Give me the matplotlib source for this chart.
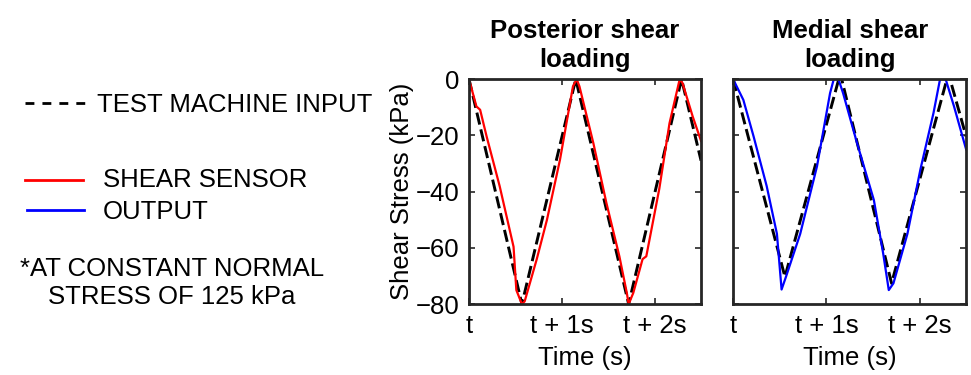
import matplotlib.pyplot as plt
from matplotlib.lines import Line2D

plt.rcParams['font.family'] = ['Liberation Sans', 'DejaVu Sans']
plt.rcParams['font.size'] = 18.5

# Data (time in s, stress in kPa)
post_input_t = [0, 0.57, 1.15, 1.72, 2.29, 2.5]
post_input_s = [0, -80, 0, -80, 0, -29]

post_sensor_t = [0, 0.08, 0.12, 0.19, 0.33, 0.48, 0.51, 0.57, 0.60, 0.73, 0.84, 0.98,
                 1.12, 1.16, 1.19, 1.34, 1.48, 1.62, 1.70, 1.72, 1.77, 1.87, 1.91,
                 2.05, 2.16, 2.27, 2.30, 2.41, 2.5]
post_sensor_s = [0, -9.7, -10.9, -20.4, -38, -59.6, -75, -80, -79, -64, -50, -28.7,
                 -2.6, 0, -2.6, -22.8, -44, -63, -76, -80, -76, -64, -63,
                 -39, -15.7, 0, -1.4, -13.3, -22]

med_input_t = [0, 0.556, 1.15, 1.70, 2.31, 2.5]
med_input_s = [0, -70.3, 2, -72.6, 2, -20.4]

med_sensor_t = [0, 0.11, 0.22, 0.36, 0.47, 0.52, 0.57, 0.72, 0.90, 1.04, 1.08, 1.13,
                1.18, 1.33, 1.51, 1.61, 1.67, 1.72, 1.87, 2.01, 2.15, 2.22, 2.28,
                2.37, 2.5]
med_sensor_s = [0, -7.4, -20.4, -38, -55, -74.8, -70, -55, -31, -5, 0, 0,
                -5, -22.8, -43, -62, -75, -72.6, -55, -32, -12, 0, 0,
                -9.7, -25]

xticks = [0, 1, 2]
xticklabels = ['t', 't + 1s', 't + 2s']
yticks = [-80, -60, -40, -20, 0]

fig = plt.figure(figsize=(9.71, 3.75), dpi=100)
fig.patch.set_facecolor('white')

ax1 = fig.add_axes([0.483, 0.189, 0.239, 0.6])
ax2 = fig.add_axes([0.755, 0.189, 0.240, 0.6])

panels = [
    (ax1, post_input_t, post_input_s, post_sensor_t, post_sensor_s, '#ff0000', 'Posterior shear\nloading'),
    (ax2, med_input_t, med_input_s, med_sensor_t, med_sensor_s, '#0000ff', 'Medial shear\nloading'),
]
for ax, ti, si, ts, ss, col, title in panels:
    ax.plot(ti, si, color='black', linestyle=(0, (4.2, 1.7)), linewidth=2.1)
    ax.plot(ts, ss, color=col, linewidth=1.6)
    ax.set_xlim(0, 2.5)
    ax.set_ylim(-80, 0)
    ax.set_xticks(xticks)
    ax.set_xticklabels(xticklabels)
    ax.set_yticks(yticks)
    ax.tick_params(direction='in', top=True, right=True, length=4, width=1.2,
                   color='#262626', labelsize=18.5, pad=7)
    for sp in ax.spines.values():
        sp.set_linewidth(2)
        sp.set_color('#262626')
    ax.set_xlabel('Time (s)', fontsize=18.5, labelpad=6)
    ax.set_title(title, fontsize=18.5, fontweight='bold', pad=9, linespacing=1.25)

ax1.set_ylabel('Shear Stress (kPa)', fontsize=18.5)
ax1.yaxis.set_label_coords(-0.235, 0.5)
ax2.set_yticklabels([])

# legend drawn by hand
fig.add_artist(Line2D([0.026, 0.088], [0.725, 0.725], color='black',
                      linestyle=(0, (3.2, 2.9)), linewidth=2))
fig.text(0.1, 0.72, 'TEST MACHINE INPUT', fontsize=18.5, va='center', ha='left')
fig.add_artist(Line2D([0.026, 0.085], [0.52, 0.52], color='#ff0000', linewidth=2))
fig.text(0.106, 0.52, 'SHEAR SENSOR', fontsize=18.5, va='center', ha='left')
fig.add_artist(Line2D([0.028, 0.086], [0.44, 0.44], color='#0000ff', linewidth=2))
fig.text(0.106, 0.435, 'OUTPUT', fontsize=18.5, va='center', ha='left')
fig.text(0.177, 0.245, '*AT CONSTANT NORMAL\nSTRESS OF 125 kPa', fontsize=18.5,
         va='center', ha='center', linespacing=1.18)

fig.savefig('out.png', dpi=100)
